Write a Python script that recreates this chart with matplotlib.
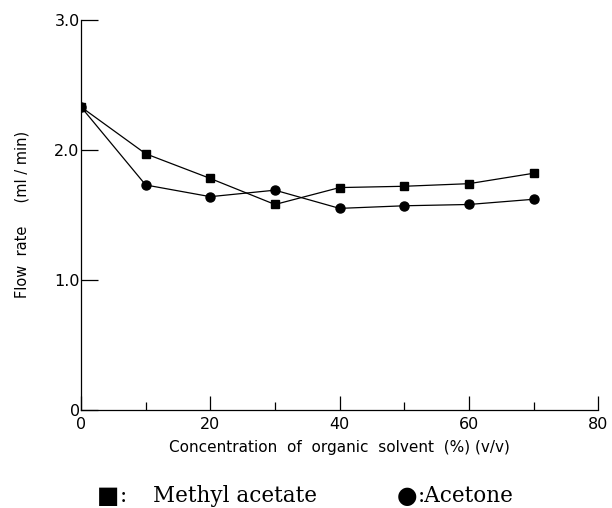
import matplotlib.pyplot as plt
from matplotlib.ticker import MultipleLocator

# 数据
conc = [0, 10, 20, 30, 40, 50, 60, 70]
methyl_acetate = [2.33, 1.97, 1.78, 1.58, 1.71, 1.72, 1.74, 1.82]
acetone = [2.33, 1.73, 1.64, 1.69, 1.55, 1.57, 1.58, 1.62]
x_ticks = [0, 20, 40, 60, 80]
y_ticks = [0, 1.0, 2.0, 3.0]
y_tick_labels = ['0', '1.0', '2.0', '3.0']

fig = plt.figure(figsize=(6.12, 5.08), dpi=100)
ax = fig.add_axes([0.1324, 0.193, 0.845, 0.768])

# 绘制两条曲线
ax.plot(conc, methyl_acetate, color='black', lw=0.9, marker='s', ms=5.2, zorder=3)
ax.plot(conc, acetone, color='black', lw=0.9, marker='o', ms=6.5, zorder=3)

ax.set_xlim(0, 80)
ax.set_ylim(0, 3.0)

# 坐标轴样式：只保留左边和下边
for s in ['top', 'right']:
    ax.spines[s].set_visible(False)
for s in ['left', 'bottom']:
    ax.spines[s].set_linewidth(0.9)

ax.set_xticks(x_ticks)
ax.xaxis.set_minor_locator(MultipleLocator(10))
ax.set_yticks(y_ticks)
ax.set_yticklabels(y_tick_labels)
ax.tick_params(axis='x', which='major', direction='in', length=10, width=0.9,
               labelsize=11.5, pad=5)
ax.tick_params(axis='x', which='minor', direction='in', length=6, width=0.9)
ax.tick_params(axis='y', which='major', direction='in', length=12, width=0.9,
               labelsize=11.5, pad=1)

ax.set_xlabel('Concentration  of  organic  solvent  (%) (v/v)', fontsize=11, labelpad=6)
ax.set_ylabel('Flow  rate     (ml / min)', fontsize=10.5, labelpad=18)

# 图例（底部文字）
serif = ['DejaVu Serif']
fy = 0.024
fig.text(97 / 612, fy, '■', fontsize=17, family='DejaVu Sans', ha='left', va='center')
fig.text(120 / 612, fy, ':', fontsize=15.5, family=serif, ha='left', va='center')
fig.text(153 / 612, fy, 'Methyl acetate', fontsize=15.5, family=serif,
         ha='left', va='center')
fig.text(397 / 612, fy, '●', fontsize=17, family='DejaVu Sans', ha='left', va='center')
fig.text(418 / 612, fy, ':Acetone', fontsize=15.5, family=serif,
         ha='left', va='center')

plt.savefig('out.png', dpi=100)
